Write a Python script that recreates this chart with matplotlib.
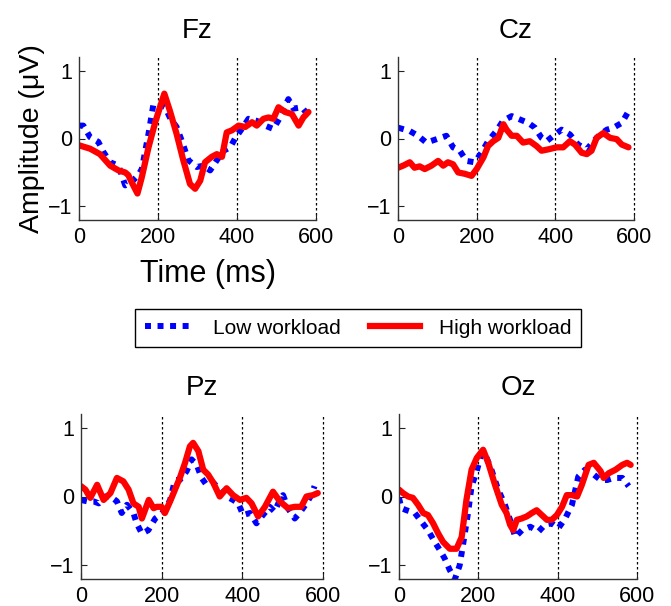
import matplotlib
matplotlib.use("Agg")
import matplotlib.pyplot as plt
from matplotlib.lines import Line2D

plt.rcParams['font.family'] = ['Liberation Sans', 'DejaVu Sans']

# ---------------- data (ms, µV) ----------------
fz_low_t = [0, 11, 28, 49, 62, 79, 100, 117, 133, 150, 159, 176, 188, 201, 218, 230, 247, 260, 277, 298,
            315, 332, 349, 366, 383, 395, 412, 429, 450, 471, 492, 509, 530, 543, 564, 581, 590]
fz_low_v = [0.19, 0.19, 0.02, -0.05, -0.20, -0.35, -0.40, -0.69, -0.64, -0.54, -0.45, 0.07, 0.49, 0.51, 0.46,
            0.31, 0.17, -0.03, -0.32, -0.42, -0.40, -0.47, -0.32, -0.18, -0.13, 0.00, 0.14, 0.29, 0.26, 0.19,
            0.14, 0.31, 0.58, 0.44, 0.46, 0.34, 0.34]
fz_high_t = [0, 28, 53, 79, 100, 117, 125, 133, 148, 159, 176, 193, 205, 216, 230, 247, 264, 281, 294, 307,
             319, 336, 349, 362, 374, 387, 404, 421, 438, 450, 467, 480, 492, 505, 522, 539, 556, 568, 581]
fz_high_v = [-0.10, -0.15, -0.23, -0.40, -0.47, -0.50, -0.54, -0.64, -0.81, -0.57, -0.13, 0.24, 0.46, 0.66,
             0.41, 0.07, -0.32, -0.67, -0.74, -0.62, -0.35, -0.27, -0.23, -0.27, 0.09, 0.12, 0.19, 0.17, 0.24,
             0.19, 0.29, 0.31, 0.29, 0.46, 0.39, 0.36, 0.19, 0.31, 0.39]

cz_low_t = [0, 30, 51, 72, 98, 123, 140, 157, 174, 195, 212, 229, 250, 267, 289, 310, 331, 348, 365, 378,
            395, 416, 437, 458, 480, 497, 514, 531, 548, 569, 586]
cz_low_v = [0.16, 0.11, 0.04, -0.06, -0.01, 0.04, -0.13, -0.18, -0.33, -0.35, -0.21, -0.04, 0.11, 0.26, 0.33,
            0.28, 0.23, 0.16, 0.01, -0.04, 0.04, 0.13, 0.06, -0.09, -0.16, -0.04, 0.06, 0.13, 0.16, 0.23, 0.40]
cz_high_t = [0, 13, 30, 42, 55, 68, 85, 102, 115, 127, 140, 153, 170, 187, 200, 217, 229, 242, 255, 268,
             276, 289, 302, 318, 335, 352, 365, 382, 403, 420, 437, 450, 467, 480, 492, 505, 522, 539, 556,
             569, 586]
cz_high_v = [-0.43, -0.40, -0.35, -0.43, -0.41, -0.45, -0.40, -0.33, -0.40, -0.35, -0.38, -0.50, -0.52, -0.55,
             -0.45, -0.28, -0.11, -0.04, 0.01, 0.21, 0.13, 0.04, 0.04, -0.06, -0.04, -0.11, -0.18, -0.16,
             -0.13, -0.13, -0.04, -0.09, -0.21, -0.23, -0.18, 0.01, 0.08, 0.01, -0.01, -0.09, -0.13]

pz_low_t = [0, 15, 31, 44, 60, 73, 89, 101, 114, 130, 138, 151, 167, 184, 196, 208, 221, 233, 245, 262, 274,
            287, 299, 311, 328, 344, 361, 377, 390, 402, 419, 435, 451, 468, 480, 493, 501, 513, 530, 542,
            559, 571, 579]
pz_low_v = [-0.05, -0.07, -0.07, -0.10, 0.00, 0.00, -0.07, -0.24, -0.12, -0.24, -0.39, -0.54, -0.49, -0.32,
            -0.27, -0.20, -0.05, 0.24, 0.24, 0.37, 0.54, 0.46, 0.27, 0.17, 0.20, 0.10, 0.00, -0.05, -0.10,
            -0.27, -0.24, -0.39, -0.27, -0.15, -0.22, -0.05, 0.02, -0.17, -0.32, -0.24, -0.10, 0.02, 0.15]
pz_high_t = [0, 11, 23, 40, 56, 73, 89, 105, 118, 130, 143, 151, 168, 180, 188, 200, 208, 221, 233, 245, 258,
             270, 278, 291, 303, 315, 328, 344, 361, 377, 394, 410, 423, 439, 456, 476, 493, 513, 530, 546,
             559, 575, 587]
pz_high_v = [0.15, 0.10, -0.02, 0.17, -0.05, 0.05, 0.27, 0.22, 0.10, -0.10, -0.15, -0.32, -0.05, -0.17,
             -0.15, -0.15, -0.24, -0.07, 0.10, 0.27, 0.49, 0.73, 0.78, 0.66, 0.39, 0.32, 0.20, 0.00, 0.12,
             0.02, -0.05, -0.02, -0.10, -0.29, -0.15, 0.07, -0.07, -0.17, -0.15, -0.15, 0.00, 0.02, 0.05]

oz_low_t = [0, 6, 19, 40, 57, 73, 90, 103, 115, 128, 141, 153, 162, 174, 183, 196, 208, 221, 233, 250, 267,
            280, 293, 310, 331, 352, 368, 385, 402, 419, 436, 452, 469, 491, 508, 525, 542, 563, 579]
oz_low_v = [-0.02, -0.17, -0.20, -0.24, -0.37, -0.49, -0.66, -0.78, -0.90, -1.07, -1.20, -1.00, -0.68, -0.24,
            0.15, 0.37, 0.63, 0.56, 0.39, 0.10, -0.12, -0.34, -0.59, -0.49, -0.44, -0.51, -0.41, -0.39, -0.46,
            -0.32, -0.12, 0.29, 0.39, 0.32, 0.24, 0.24, 0.27, 0.27, 0.15]
oz_high_t = [0, 10, 23, 35, 48, 61, 73, 86, 99, 111, 128, 145, 158, 170, 183, 196, 212, 225, 242, 259, 271,
             280, 288, 297, 309, 322, 335, 347, 360, 373, 385, 398, 411, 423, 436, 449, 461, 478, 491, 508,
             516, 529, 546, 563, 575, 584]
oz_high_v = [0.10, 0.05, 0.00, -0.02, -0.12, -0.24, -0.27, -0.39, -0.54, -0.66, -0.76, -0.76, -0.59, -0.05,
             0.39, 0.56, 0.68, 0.49, 0.17, -0.12, -0.24, -0.41, -0.49, -0.34, -0.32, -0.29, -0.24, -0.20,
             -0.27, -0.34, -0.34, -0.27, -0.15, 0.02, 0.02, 0.00, 0.17, 0.46, 0.49, 0.37, 0.27, 0.34, 0.39,
             0.46, 0.49, 0.46]

titles = ['Fz', 'Cz', 'Pz', 'Oz']
series_labels = ['Low workload', 'High workload']
x_ticks = [0, 200, 400, 600]
y_ticks = [-1, 0, 1]
marker_times = [200, 400, 600]

panels = [
    (fz_low_t, fz_low_v, fz_high_t, fz_high_v),
    (cz_low_t, cz_low_v, cz_high_t, cz_high_v),
    (pz_low_t, pz_low_v, pz_high_t, pz_high_v),
    (oz_low_t, oz_low_v, oz_high_t, oz_high_v),
]

# axes rectangles in figure pixels (left, top, right, bottom)
W, H = 671, 606
rects_px = [(79, 57, 316, 220), (398, 57, 634, 220), (81, 414, 323, 579), (399, 414, 637, 579)]

fig = plt.figure(figsize=(W / 100, H / 100), dpi=100)
fig.patch.set_facecolor('white')

LOW_COLOR = '#0000ff'
HIGH_COLOR = '#ff0000'
LOW_STYLE = (0, (1, 1.1))

axes = []
for (x0, y0, x1, y1), title, (lt, lv, ht, hv) in zip(rects_px, titles, panels):
    ax = fig.add_axes([x0 / W, 1 - y1 / H, (x1 - x0) / W, (y1 - y0) / H])
    ax.plot(lt, lv, color=LOW_COLOR, lw=4.3, linestyle=LOW_STYLE, dash_capstyle='butt')
    ax.plot(ht, hv, color=HIGH_COLOR, lw=4.5, solid_capstyle='round', solid_joinstyle='round')
    for t in marker_times:
        ax.axvline(t, color='black', lw=0.9, linestyle=(0, (2, 2)), zorder=0.5, clip_on=False)
    ax.set_xlim(0, 600)
    ax.set_ylim(-1.2, 1.2)
    ax.set_xticks(x_ticks)
    ax.set_yticks(y_ticks)
    ax.tick_params(direction='in', length=4, width=0.8, labelsize=15.5, pad=5, colors='#222222',
                   labelcolor='black')
    for s in ['top', 'right']:
        ax.spines[s].set_visible(False)
    for s in ['left', 'bottom']:
        ax.spines[s].set_color('#333333')
        ax.spines[s].set_linewidth(1.0)
    ax.set_title(title, fontsize=20, pad=14)
    axes.append(ax)

axes[0].set_xlabel('Time (ms)', fontsize=22, labelpad=8)
axes[0].xaxis.label.set_x(0.545)
axes[0].set_ylabel('Amplitude (μV)', fontsize=20.5, labelpad=2)

handles = [
    Line2D([], [], color=LOW_COLOR, lw=4.3, linestyle=LOW_STYLE, dash_capstyle='butt'),
    Line2D([], [], color=HIGH_COLOR, lw=4.5),
]
leg = fig.legend(handles, series_labels, loc='center', bbox_to_anchor=(358 / W, 1 - 328 / H), ncol=2,
                 fontsize=15, frameon=True, fancybox=False, edgecolor='black', framealpha=1,
                 handlelength=2.4, handletextpad=0.9, columnspacing=1.4, borderpad=0.45)
leg.get_frame().set_linewidth(1.0)

fig.savefig('out.png', dpi=100, facecolor='white')
